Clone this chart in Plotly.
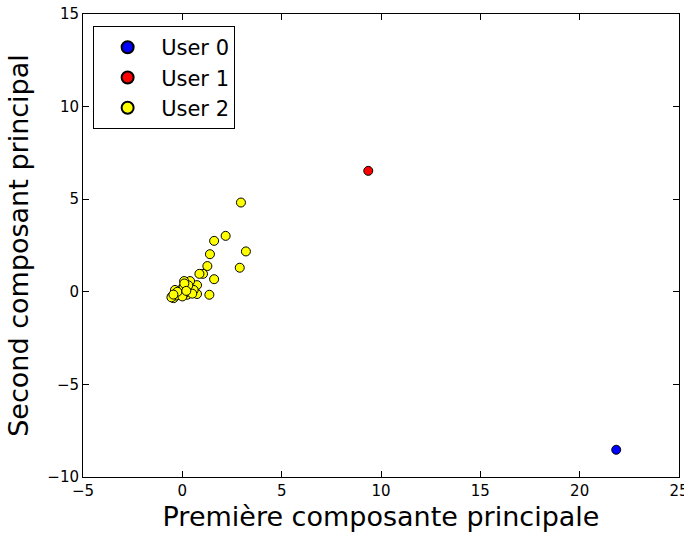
import plotly.graph_objects as go

user0_x = [21.84]
user0_y = [-8.53]
user1_x = [9.36]
user1_y = [6.53]
user2_x = [2.95, 2.18, 1.60, 3.20, 1.39, 1.26, 1.04, 0.86, 2.89, 1.60, 1.36, 0.74, 0.74,
           0.39, 0.09, -0.08, 0.24, -0.52, -0.37, 0.40, 0.07, -0.19, -0.44, 0.57,
           0.15, -0.30, 0.30, 0.00, -0.55, -0.25, 0.10, 0.50, -0.45, 0.20]
user2_y = [4.82, 3.02, 2.75, 2.18, 2.03, 1.39, 0.97, 0.97, 1.30, 0.68, -0.16, 0.36, -0.12,
           0.58, 0.58, 0.10, -0.16, -0.25, 0.10, 0.20, 0.29, -0.16, -0.34, 0.10,
           -0.05, -0.20, 0.35, -0.25, -0.30, 0.00, 0.45, -0.10, -0.15, 0.05]

xticks = [-5, 0, 5, 10, 15, 20, 25]
yticks = [-10, -5, 0, 5, 10, 15]

def lab(v):
    return str(v).replace("-", "\u2212")

fig = go.Figure()
for name, xs, ys, col in [("User 0", user0_x, user0_y, "#0000ff"),
                          ("User 1", user1_x, user1_y, "#ff0000"),
                          ("User 2", user2_x, user2_y, "#ffff00")]:
    fig.add_trace(go.Scatter(x=xs, y=ys, mode="markers", name=name,
                             marker=dict(size=9, color=col, line=dict(color="black", width=1))))

axis_common = dict(showgrid=False, zeroline=False, showline=True, linecolor="black", linewidth=1,
                   mirror="ticks", ticks="inside", ticklen=6, tickcolor="black",
                   ticklabeloverflow="allow", automargin=False,
                   tickfont=dict(family="DejaVu Sans", size=15, color="black"))
fig.update_xaxes(range=[-5, 25.0001], tickvals=xticks, ticktext=[lab(v) for v in xticks],
                 title=dict(text="Première composante principale",
                            font=dict(family="DejaVu Sans", size=27, color="black"), standoff=8),
                 **axis_common)
fig.update_yaxes(range=[-10, 15], tickvals=yticks, ticktext=[lab(v) for v in yticks],
                 title=dict(text="Second composant principal",
                            font=dict(family="DejaVu Sans", size=27, color="black"), standoff=10),
                 **axis_common)
fig.update_layout(width=684, height=537, margin=dict(l=83, r=5, t=14, b=60),
                  plot_bgcolor="white", paper_bgcolor="white",
                  legend=dict(x=0.017, y=0.974, xanchor="left", yanchor="top",
                              bordercolor="black", borderwidth=1, bgcolor="white",
                              font=dict(family="DejaVu Sans", size=21, color="black"),
                              itemwidth=57, tracegroupgap=0,
                              itemsizing="constant"))
fig.write_html("out.html")
